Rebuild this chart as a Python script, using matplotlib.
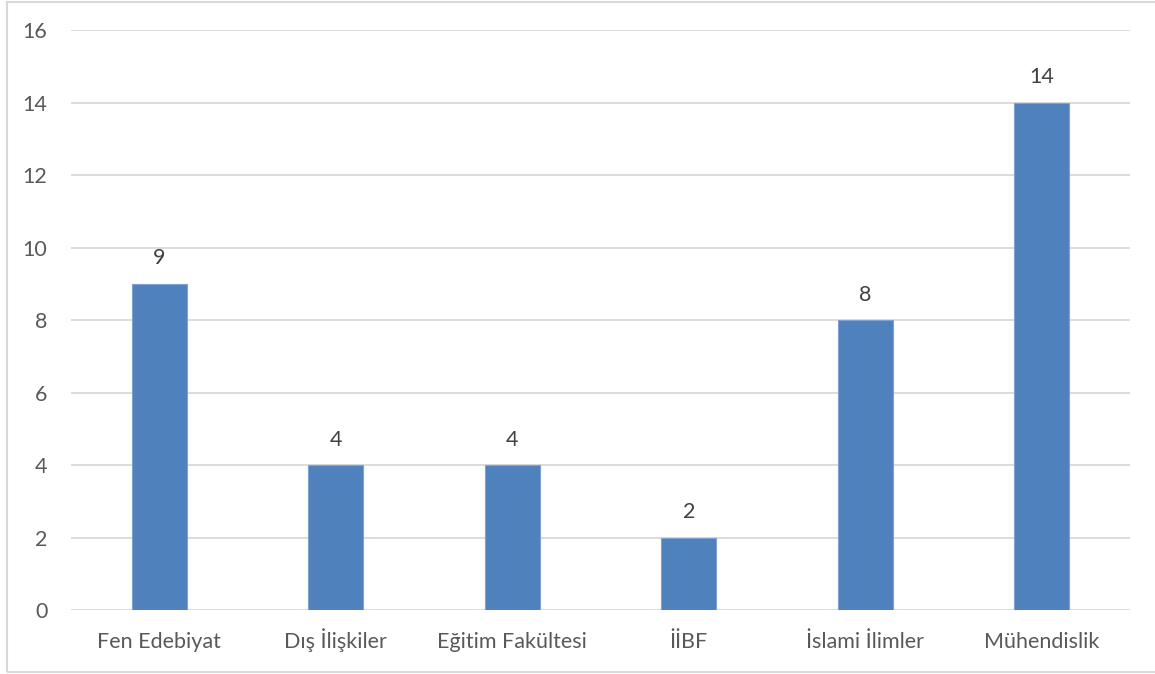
import matplotlib.pyplot as plt
from matplotlib.patches import Rectangle

faculties = ["Fen Edebiyat", "Dış İlişkiler", "Eğitim Fakültesi", "İİBF", "İslami İlimler", "Mühendislik"]
counts = [9, 4, 4, 2, 8, 14]
y_ticks = [0, 2, 4, 6, 8, 10, 12, 14, 16]

text_color = "#595959"
plt.rcParams['font.family'] = ['Lato', 'DejaVu Sans']

fig = plt.figure(figsize=(11.55, 6.74), dpi=100)
ax = fig.add_axes([71 / 1155, 64 / 674, (1130 - 71) / 1155, (610 - 30) / 674])

x = range(len(faculties))
bars = ax.bar(x, counts, width=0.31, color="#4F81BD", edgecolor="#7EA3D3", linewidth=0.8, zorder=3)

for rect, v in zip(bars, counts):
    ax.annotate(str(v), (rect.get_x() + rect.get_width() / 2, v), xytext=(0, 14),
                textcoords='offset points', ha='center', va='baseline',
                fontsize=15.5, color="#404040")

ax.set_xlim(-0.5, len(faculties) - 0.5)
ax.set_ylim(0, 16)
ax.set_yticks(y_ticks)
ax.set_xticks(list(x))
ax.set_xticklabels(faculties)
ax.tick_params(axis='both', length=0, labelsize=15.5, colors=text_color)
ax.tick_params(axis='x', pad=27)
ax.tick_params(axis='y', pad=17)
for lbl in ax.get_xticklabels():
    lbl.set_va('baseline')
ax.grid(axis='y', color="#D9D9D9", linewidth=1.3, zorder=0)
for s in ax.spines.values():
    s.set_visible(False)

fig.patches.append(Rectangle((7 / 1155, 2 / 674), 1.0, 670 / 674, transform=fig.transFigure,
                             fill=False, edgecolor="#D9D9D9", linewidth=1.5))

fig.savefig("out.png", dpi=100)
